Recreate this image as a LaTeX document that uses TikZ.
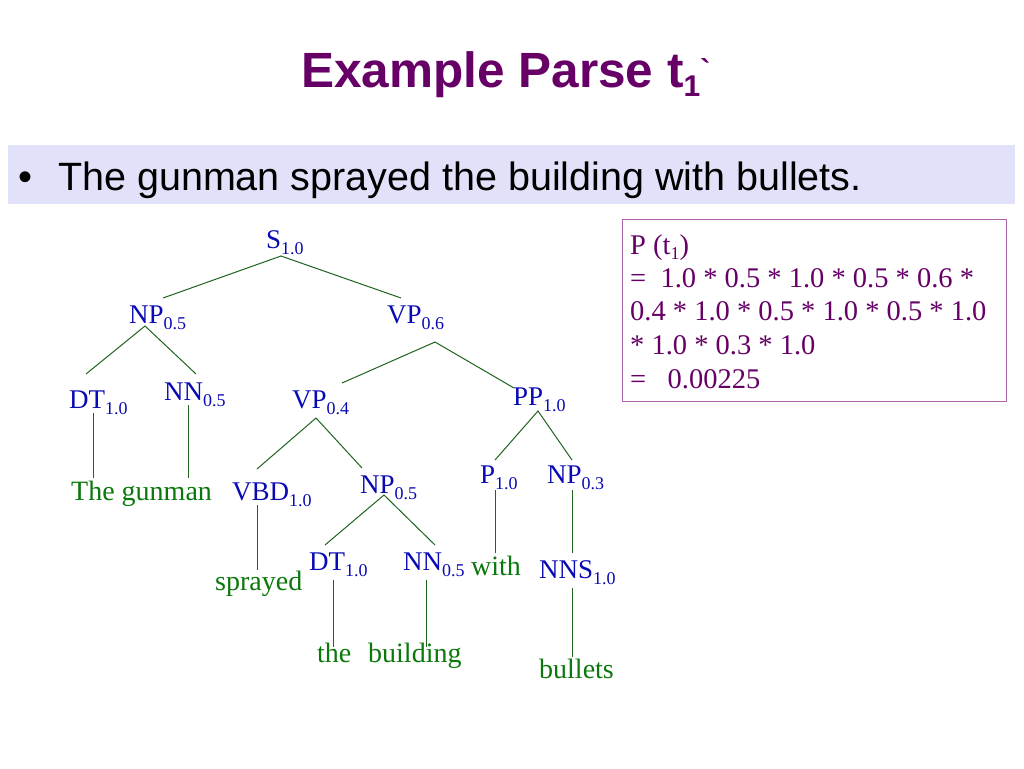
\documentclass[tikz,border=0pt]{standalone}
\usepackage{fontspec}
\setmainfont{Liberation Serif}
\newfontfamily\arialfont{Liberation Sans}
\definecolor{titlepurple}{RGB}{102,0,102}
\definecolor{boxborder}{RGB}{170,100,170}
\definecolor{bandcol}{RGB}{225,225,250}
\definecolor{catblue}{RGB}{10,10,180}
\definecolor{linegreen}{RGB}{30,100,30}
\definecolor{leafgreen}{RGB}{10,120,10}
\newcommand\catlab[2]{#1\raisebox{-6.5pt}{\fontsize{18}{18}\selectfont #2}}
\tikzset{
  catn/.style={anchor=base west, inner sep=0pt, text=catblue, font=\fontsize{27}{27}\selectfont},
  leafn/.style={anchor=base west, inner sep=0pt, text=leafgreen, font=\fontsize{28}{28}\selectfont},
  edge/.style={draw=linegreen, line width=1pt},
  probtext/.style={anchor=base west, inner sep=0pt, text=titlepurple, font=\fontsize{28.5}{28.5}\selectfont}
}
\begin{document}
\begin{tikzpicture}[x=1pt,y=-1pt]
\useasboundingbox (0,0) rectangle (1024,768);
\fill[white] (0,0) rectangle (1024,768);
% title
\node[anchor=base west, inner sep=0pt, text=titlepurple, font=\arialfont\bfseries\fontsize{49.5}{49.5}\selectfont] (title) at (301,87)
  {Example Parse t\raisebox{-9pt}{\fontsize{30}{30}\selectfont 1}\raisebox{6pt}{\fontsize{30}{30}\selectfont `}};
% bullet band
\fill[bandcol] (8,145) rectangle (1015,204);
\node[anchor=base west, inner sep=0pt, font=\arialfont\fontsize{40}{40}\selectfont] (bul) at (18,190) {\textbullet};
\node[anchor=base west, inner sep=0pt, font=\arialfont\fontsize{39.5}{39.5}\selectfont] (sent) at (58,190) {The gunman sprayed the building with bullets.};
% probability box
\node[draw=boxborder, line width=1.3pt, fill=white, minimum width=384pt, minimum height=182pt, anchor=north west, inner sep=0pt] (pbox) at (622,219) {};
\node[probtext] (p1) at (630,254) {P (t\raisebox{-5pt}{\fontsize{18}{18}\selectfont 1})};
\node[probtext] (p2) at (630,287) {=\ \ 1.0 * 0.5 * 1.0 * 0.5 * 0.6 *};
\node[probtext] (p3) at (630,320) {0.4 * 1.0 * 0.5 * 1.0 * 0.5 * 1.0};
\node[probtext] (p4) at (630,354) {* 1.0 * 0.3 * 1.0};
\node[probtext] (p5) at (630,388) {=\ \ \ 0.00225};
% tree categories
\node[catn] (S) at (266,248) {\catlab{S}{1.0}};
\node[catn] (NPa) at (129,323) {\catlab{NP}{0.5}};
\node[catn] (VPa) at (387,323) {\catlab{VP}{0.6}};
\node[catn] (DTa) at (69,408) {\catlab{DT}{1.0}};
\node[catn] (NNa) at (164,400) {\catlab{NN}{0.5}};
\node[catn] (VPb) at (292,408) {\catlab{VP}{0.4}};
\node[catn] (PP) at (513,405) {\catlab{PP}{1.0}};
\node[catn] (VBD) at (232,500) {\catlab{VBD}{1.0}};
\node[catn] (NPb) at (360,493) {\catlab{NP}{0.5}};
\node[catn] (Pn) at (480,483) {\catlab{P}{1.0}};
\node[catn] (NPc) at (547,483) {\catlab{NP}{0.3}};
\node[catn] (DTb) at (309,570) {\catlab{DT}{1.0}};
\node[catn] (NNb) at (403,570) {\catlab{NN}{0.5}};
\node[catn] (NNS) at (539,578) {\catlab{NNS}{1.0}};
% leaves
\node[leafn] (wgun) at (71,500) {The gunman};
\node[leafn] (wspr) at (215,590) {sprayed};
\node[leafn] (wthe) at (317,662) {the};
\node[leafn] (wbld) at (368,662) {building};
\node[leafn] (wwith) at (471,575) {with};
\node[leafn] (wbul) at (539,678) {bullets};
% connector end points
\coordinate (S-d) at (281,256);
\coordinate (NPa-u) at (163,298);
\coordinate (VPa-u) at (401,298);
\coordinate (NPa-d) at (145,326);
\coordinate (DTa-u) at (86,374);
\coordinate (NNa-u) at (196,374);
\coordinate (VPa-d) at (435,342);
\coordinate (VPb-u) at (342,383);
\coordinate (PP-u) at (514,388);
\coordinate (VPb-d) at (316,418);
\coordinate (VBD-u) at (257,469);
\coordinate (NPb-u) at (362,468);
\coordinate (NPb-d) at (384,495);
\coordinate (DTb-u) at (325,545);
\coordinate (NNb-u) at (435,545);
\coordinate (PP-d) at (538,411);
\coordinate (Pn-u) at (495,460);
\coordinate (NPc-u) at (572,460);
\coordinate (DTa-d) at (93,413);
\coordinate (wgun-u1) at (93,478);
\coordinate (NNa-d) at (188,405);
\coordinate (wgun-u2) at (188,478);
\coordinate (VBD-d) at (257,505);
\coordinate (wspr-u) at (257,570);
\coordinate (DTb-d) at (333,580);
\coordinate (wthe-u) at (333,647);
\coordinate (NNb-d) at (426,580);
\coordinate (wbld-u) at (426,647);
\coordinate (Pn-d) at (495,490);
\coordinate (wwith-u) at (495,553);
\coordinate (NPc-d) at (572,490);
\coordinate (NNS-u) at (572,553);
\coordinate (NNS-d) at (572,588);
\coordinate (wbul-u) at (572,657);
% connectors
\draw[edge] (NPa-u) -- (S-d) -- (VPa-u);
\draw[edge] (DTa-u) -- (NPa-d) -- (NNa-u);
\draw[edge] (VPb-u) -- (VPa-d) -- (PP-u);
\draw[edge] (VBD-u) -- (VPb-d) -- (NPb-u);
\draw[edge] (DTb-u) -- (NPb-d) -- (NNb-u);
\draw[edge] (Pn-u) -- (PP-d) -- (NPc-u);
\draw[edge] (DTa-d) -- (wgun-u1);
\draw[edge] (NNa-d) -- (wgun-u2);
\draw[edge] (VBD-d) -- (wspr-u);
\draw[edge] (DTb-d) -- (wthe-u);
\draw[edge] (NNb-d) -- (wbld-u);
\draw[edge] (Pn-d) -- (wwith-u);
\draw[edge] (NPc-d) -- (NNS-u);
\draw[edge] (NNS-d) -- (wbul-u);
\end{tikzpicture}
\end{document}
